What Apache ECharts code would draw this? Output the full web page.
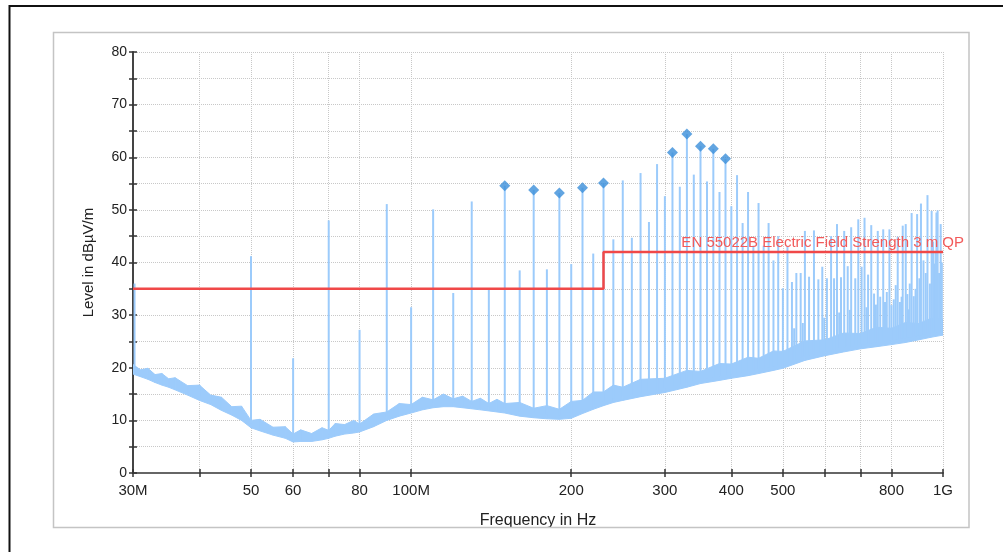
<!DOCTYPE html>
<html>
<head>
<meta charset="utf-8">
<title>EN 55022B radiated emission</title>
<script src="https://cdn.jsdelivr.net/npm/echarts@6/dist/echarts.min.js"></script>
<style>
  html, body { margin: 0; padding: 0; background: #fff; }
  #chart { width: 1003px; height: 552px; }
</style>
</head>
<body>
<div id="chart"></div>
<script>
// frequency axis (MHz)
const tickFreqs = [30, 40, 50, 60, 70, 80, 100, 200, 300, 400, 500, 600, 700, 800, 1000]
const labelFreqs = [30, 50, 60, 80, 100, 200, 300, 400, 500, 800, 1000]
const labelNames = ['30M', '50', '60', '80', '100M', '200', '300', '400', '500', '800', '1G']

// noise floor band (MHz, dBuV/m)
const floorFreq = [30, 31, 32, 33, 34, 35, 36, 38, 40, 42, 44, 46, 48, 50, 52, 55, 58, 60, 62, 65, 68, 70, 72, 75, 78, 80, 85, 90, 95, 100,
  105, 110, 115, 120, 125, 130, 135, 140, 145, 150, 160, 170, 180, 190, 200, 210, 220, 230, 240, 250, 270, 300, 330, 350, 380, 400,
  430, 450, 480, 500, 550, 600, 650, 700, 750, 800, 850, 900, 950, 1000]
const floorLow = [18.8, 18.3, 17.8, 17.2, 16.7, 16.3, 15.8, 14.8, 13.8, 13.0, 11.9, 11.0, 10.0, 8.6, 8.0, 7.2, 6.6, 5.9, 6.0, 6.0, 6.3, 6.6, 7.0, 7.4, 7.6, 7.8, 8.8, 10.0, 10.8, 11.4,
  12.0, 12.4, 12.6, 12.6, 12.4, 12.2, 12.0, 11.8, 11.6, 11.4, 10.8, 10.5, 10.3, 10.2, 10.4, 11.3, 12.1, 12.8, 13.4, 13.8, 14.5, 15.3, 16.3, 17.0, 17.6, 18.0,
  18.5, 18.9, 19.5, 19.9, 21.4, 22.3, 23.0, 23.6, 24.0, 24.4, 24.8, 25.3, 25.8, 26.2]
const floorHigh = [20.6, 19.6, 19.9, 18.7, 18.9, 17.9, 18.1, 16.6, 16.7, 14.8, 14.4, 12.6, 12.7, 10.0, 10.2, 8.7, 8.8, 7.4, 8.2, 7.5, 8.6, 8.1, 9.4, 9.2, 10.0, 9.3, 11.2, 11.6, 13.2, 13.0,
  14.4, 13.9, 15.0, 14.1, 14.6, 13.6, 14.2, 13.2, 14.0, 13.2, 13.4, 12.3, 12.8, 12.1, 13.6, 13.8, 15.4, 15.4, 16.7, 16.3, 17.8, 18.0, 19.5, 19.3, 20.8, 20.7,
  22.0, 21.8, 23.2, 23.1, 25.1, 25.3, 26.6, 26.5, 27.7, 27.5, 28.6, 28.4, 29.4, 29.2]

// narrowband spikes (MHz, peak dBuV/m)
const spikeFreq = [30.2, 40, 50, 60, 70, 80, 90, 100, 110, 120, 130, 140, 150, 160, 170, 180, 190, 200, 210, 220, 230, 240, 250, 260, 270, 280, 290,
  300, 310, 320, 330, 340, 350, 360, 370, 380, 390, 400, 410, 420, 430, 440, 450, 460, 470, 480, 490, 500, 510, 520, 530, 540, 550, 560, 572, 583, 593,
  605, 616, 624, 632, 643, 652, 662, 672, 684, 693, 703, 712, 723, 733, 742, 754, 762, 772, 784, 793, 800, 815, 822, 830, 840, 851, 861, 873, 881, 894,
  909, 919, 935, 952, 963, 972, 977, 990,
  525, 545, 598, 638, 668, 718, 748, 778, 808, 836, 857, 866, 888, 903, 928, 945, 958, 968, 983, 995]
const spikeLevel = [36.0, 16.7, 41.2, 21.8, 48.0, 27.2, 51.1, 31.5, 50.1, 34.2, 51.6, 35.1, 54.6, 38.5, 53.8, 38.7, 53.2, 39.7, 54.2, 41.7, 55.1, 44.4, 55.6, 44.7, 57.0, 47.7, 58.7,
  52.6, 60.9, 54.4, 64.4, 56.7, 62.1, 55.4, 61.6, 53.4, 59.7, 50.7, 56.6, 47.5, 53.4, 43.2, 51.3, 43.2, 47.5, 40.4, 45.0, 35.1, 43.0, 36.3, 38.0, 38.0, 46.0, 37.3, 46.1, 36.8, 39.2,
  37.0, 45.0, 37.0, 47.3, 37.2, 46.0, 39.3, 46.7, 37.0, 48.2, 39.2, 48.5, 37.7, 47.1, 34.1, 46.0, 33.5, 46.3, 34.4, 46.3, 31.9, 35.7, 44.9, 32.5, 47.0, 47.3, 31.1, 49.4, 33.6, 49.2,
  51.2, 40.4, 52.8, 49.8, 39.8, 49.5, 49.9, 47.3,
  27.5, 28.5, 29.5, 30.5, 31.0, 31.5, 32.0, 32.5, 33.0, 33.5, 34.0, 36.0, 35.0, 37.0, 38.0, 36.0, 44.0, 42.0, 38.0, 40.0]

// final measurement points
const peakFreq = [150, 170, 190, 210, 230, 310, 330, 350, 370, 390]
const peakLevel = [54.6, 53.8, 53.2, 54.2, 55.1, 60.9, 64.4, 62.1, 61.6, 59.7]

// EN 55022B limit, 3 m QP
const limitFreq = [30, 230, 230, 1000]
const limitLevel = [35, 35, 42, 42]

const lg = f => Math.log10(f)
const FONT = 'Liberation Sans, Arial, sans-serif'
const TRACE = '#9ccbfb'

// floor level at f, used only to place the foot of each spike
function floorAt(f) {
  const x = lg(f)
  for (let i = 1; i < floorFreq.length; i++) {
    const x0 = lg(floorFreq[i - 1]), x1 = lg(floorFreq[i])
    if (x <= x1) {
      const t = (x - x0) / (x1 - x0)
      return floorLow[i - 1] + t * (floorLow[i] - floorLow[i - 1]) + 0.8
    }
  }
  return floorLow[floorLow.length - 1]
}

function freqLabel(v) {
  const i = labelFreqs.findIndex(f => Math.abs(lg(f) - v) < 1e-6)
  return i < 0 ? '' : labelNames[i]
}

// one band segment per pair of neighbouring floor points
const bandData = []
for (let i = 0; i < floorFreq.length - 1; i++) {
  bandData.push([lg(floorFreq[i]), floorLow[i], floorHigh[i], lg(floorFreq[i + 1]), floorLow[i + 1], floorHigh[i + 1]])
}

const chart = echarts.init(document.getElementById('chart'))

const xBase = {
  type: 'value',
  min: lg(30),
  max: lg(1000),
  position: 'bottom'
}
const yBase = {
  type: 'value',
  min: 0,
  max: 80,
  interval: 5,
  position: 'left'
}

chart.setOption({
  animation: false,
  backgroundColor: '#fff',
  grid: { left: 133, right: 60, top: 52, bottom: 79 },
  graphic: [
    { type: 'rect', shape: { x: 9.5, y: 6, width: 1100, height: 600 }, style: { fill: 'none', stroke: '#111', lineWidth: 2 }, z: 100 },
    { type: 'rect', shape: { x: 53.5, y: 32.5, width: 915.5, height: 495 }, style: { fill: 'none', stroke: '#c4c4c4', lineWidth: 1.5 }, z: 100 },
    { type: 'text', x: 964, y: 243, style: { text: 'EN 55022B Electric Field Strength 3 m QP', fill: '#f25a5a', font: '15px ' + FONT, align: 'right', verticalAlign: 'middle' }, z: 100 }
  ],
  xAxis: [
    Object.assign({}, xBase, {
      name: 'Frequency in Hz',
      nameLocation: 'middle',
      nameGap: 40,
      nameTextStyle: { fontFamily: FONT, fontSize: 16, color: '#222' },
      axisLine: { lineStyle: { color: '#666', width: 2 } },
      axisTick: { customValues: tickFreqs.map(lg), length: 4, lineStyle: { color: '#333', width: 1.5 } },
      axisLabel: { customValues: labelFreqs.map(lg), formatter: freqLabel, fontFamily: FONT, fontSize: 15, color: '#222', margin: 10 },
      splitLine: { show: true, lineStyle: { type: 'dotted', color: '#c8c8c8', width: 1 } }
    }),
    Object.assign({}, xBase, {
      axisLine: { show: false },
      axisTick: { customValues: tickFreqs.map(lg), inside: true, length: 4, lineStyle: { color: '#333', width: 1.5 } },
      axisLabel: { show: false },
      splitLine: { show: false }
    })
  ],
  yAxis: [
    Object.assign({}, yBase, {
      name: 'Level in dBµV/m',
      nameLocation: 'middle',
      nameGap: 37,
      nameTextStyle: { fontFamily: FONT, fontSize: 15, color: '#222' },
      axisLine: { show: true, lineStyle: { color: '#444', width: 2 } },
      axisTick: { show: true, length: 4, lineStyle: { color: '#333', width: 1.5 } },
      axisLabel: { formatter: v => (v % 10 === 0 ? String(v) : ''), fontFamily: FONT, fontSize: 14, color: '#222', margin: 6 },
      splitLine: { show: true, lineStyle: { type: 'dotted', color: '#c8c8c8', width: 1 } }
    }),
    Object.assign({}, yBase, {
      axisLine: { show: false },
      axisTick: { show: true, inside: true, length: 4, lineStyle: { color: '#333', width: 1.5 } },
      axisLabel: { show: false },
      splitLine: { show: false }
    })
  ],
  series: [
    {
      // noise floor band
      type: 'custom',
      clip: true,
      encode: { x: [0, 3], y: [1, 2, 4, 5] },
      data: bandData,
      renderItem: (params, api) => {
        const pts = [
          api.coord([api.value(0), api.value(1)]),
          api.coord([api.value(3), api.value(4)]),
          api.coord([api.value(3), api.value(5)]),
          api.coord([api.value(0), api.value(2)])
        ]
        return {
          type: 'polygon',
          shape: { points: pts },
          style: { fill: TRACE, stroke: TRACE, lineWidth: 1 }
        }
      },
      z: 2
    },
    {
      // spikes
      type: 'custom',
      clip: true,
      encode: { x: 0, y: [1, 2] },
      data: spikeFreq.map((f, i) => [lg(f), spikeLevel[i], floorAt(f)]),
      renderItem: (params, api) => {
        const top = api.coord([api.value(0), api.value(1)])
        const bot = api.coord([api.value(0), api.value(2)])
        return {
          type: 'line',
          shape: { x1: top[0], y1: top[1], x2: bot[0], y2: bot[1] },
          style: { stroke: TRACE, lineWidth: 2 }
        }
      },
      z: 3
    },
    {
      type: 'line',
      symbol: 'none',
      lineStyle: { color: '#f04848', width: 2.5 },
      data: limitFreq.map((f, i) => [lg(f), limitLevel[i]]),
      z: 4
    },
    {
      type: 'scatter',
      symbol: 'diamond',
      symbolSize: [11, 11],
      itemStyle: { color: '#3b8fd9' },
      data: peakFreq.map((f, i) => [lg(f), peakLevel[i]]),
      z: 5
    }
  ]
})
</script>
</body>
</html>
